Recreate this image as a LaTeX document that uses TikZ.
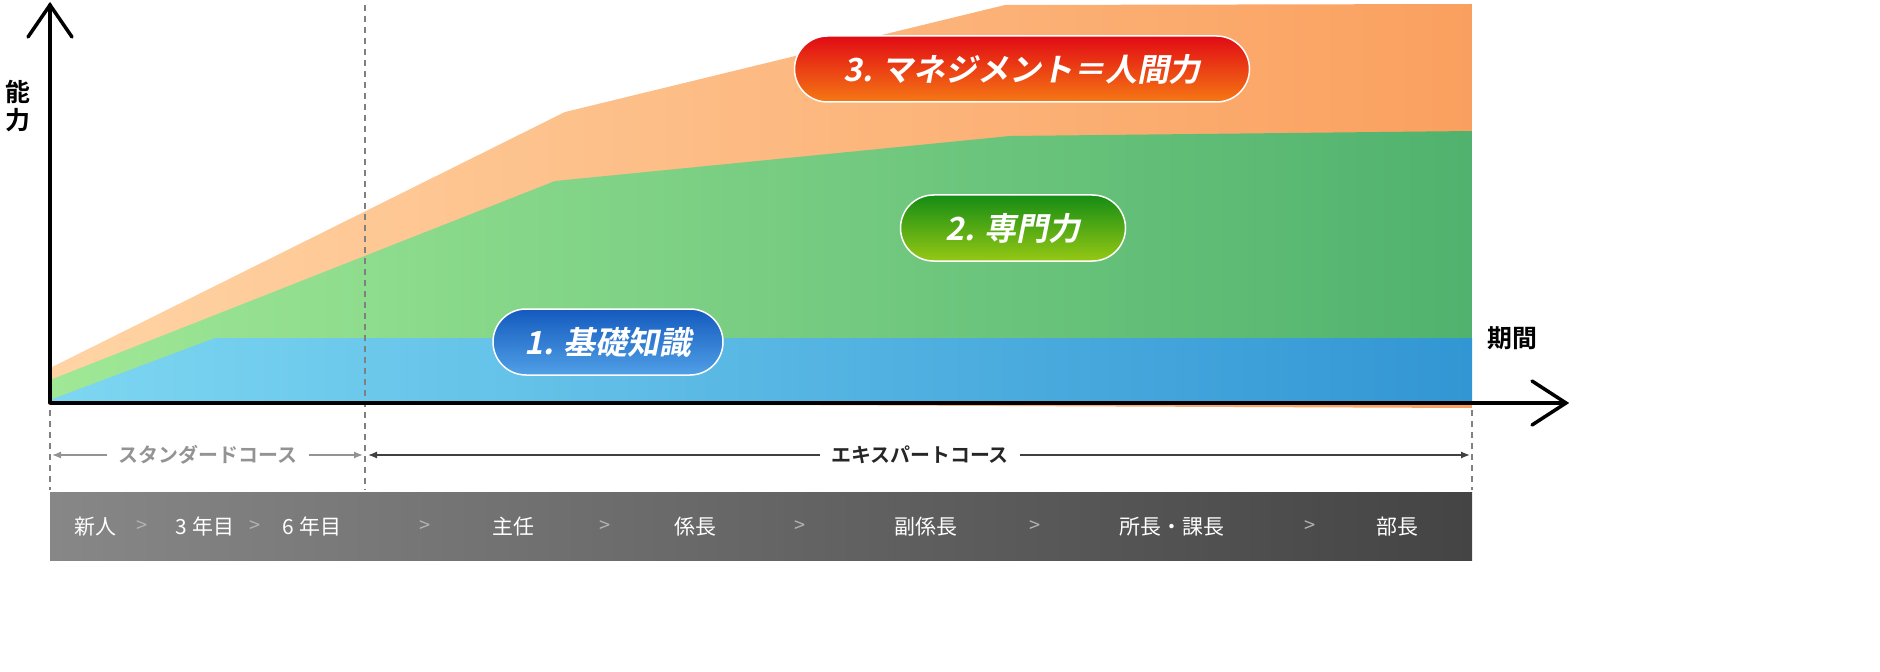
\documentclass[tikz,border=0pt]{standalone}
\usepackage{fontspec}
\newfontfamily\jp{Noto Sans CJK JP}
\newfontfamily\jpb[FakeSlant=0.2]{Noto Sans CJK JP Bold}
\newfontfamily\jpbold{Noto Sans CJK JP Bold}
\usetikzlibrary{arrows.meta}
\begin{document}
\begin{tikzpicture}[x=1bp,y=-1bp,
  pill/.style={draw=white,line width=1.5bp,rounded corners=33bp,minimum height=66bp,text=white,font=\jpb\fontsize{32}{36}\selectfont,inner xsep=0},
  barlab/.style={text=white,font=\jp\fontsize{21}{24}\selectfont},
  chev/.style={text=gray!60,font=\jp\fontsize{20}{24}\selectfont},
  dline/.style={dashed,gray,line width=1.2bp,dash pattern=on 6bp off 5bp}]
\useasboundingbox (0,0) rectangle (1880,672);
% areas
\shade[left color={rgb,255:red,255;green,212;blue,165},right color={rgb,255:red,250;green,160;blue,95}]
 (50,368) -- (565,112) -- (1005,5) -- (1472,4) -- (1472,408) -- (50,402) -- cycle;
\shade[left color={rgb,255:red,160;green,232;blue,150},right color={rgb,255:red,80;green,178;blue,110}]
 (50,380) -- (555,181) -- (1010,136) -- (1472,131) -- (1472,402) -- (50,402) -- cycle;
\shade[left color={rgb,255:red,125;green,215;blue,242},right color={rgb,255:red,50;green,150;blue,212}]
 (50,400) -- (215,338) -- (1472,338) -- (1472,402) -- (50,402) -- cycle;
% dashed lines
\draw[dline] (365,5) -- (365,490);
\draw[dline] (50,410) -- (50,490);
\draw[dline] (1472,410) -- (1472,490);
% axes
\coordinate (O) at (50,403);
\coordinate (Y) at (50,5);
\coordinate (X) at (1566,403);
\draw[line width=3.5bp,line cap=round,line join=miter] (O) -- (Y);
\draw[line width=3.5bp] (O) -- (X);
\draw[line width=3.5bp,line cap=round] (28,37) -- (Y) -- (72,37);
\draw[line width=3.5bp,line cap=round] (1532,381) -- (X) -- (1532,425);
\node[font=\jpbold\fontsize{25}{28}\selectfont,align=center] (nl) at (18,106) {能\\力};
\node[font=\jpbold\fontsize{25}{28}\selectfont] (kk) at (1512,338) {期間};
% pills
\node[pill,minimum width=455bp,top color={rgb,255:red,225;green,10;blue,20},bottom color={rgb,255:red,245;green,120;blue,20}] (p3) at (1022,69) {3. マネジメント＝人間力};
\node[pill,minimum width=225bp,top color={rgb,255:red,20;green,140;blue,20},bottom color={rgb,255:red,150;green,200;blue,20}] (p2) at (1013,228) {2. 専門力};
\node[pill,minimum width=230bp,top color={rgb,255:red,20;green,90;blue,190},bottom color={rgb,255:red,80;green,160;blue,230}] (p1) at (608,342) {1. 基礎知識};
% course arrows
\node[text=gray!85,font=\jpbold\fontsize{20}{24}\selectfont] (sc) at (208,455) {スタンダードコース};
\coordinate (s1) at (52,455); \coordinate (s2) at (363,455);
\draw[gray!85,line width=1.3bp,-{Latex[length=9bp,width=7bp]}] (sc.west) ++(-8,0) -- (s1);
\draw[gray!85,line width=1.3bp,-{Latex[length=9bp,width=7bp]}] (sc.east) ++(8,0) -- (s2);
\node[text=black!85,font=\jpbold\fontsize{20}{24}\selectfont] (ec) at (920,455) {エキスパートコース};
\coordinate (e1) at (368,455); \coordinate (e2) at (1470,455);
\draw[black!75,line width=1.3bp,-{Latex[length=9bp,width=7bp]}] (ec.west) ++(-8,0) -- (e1);
\draw[black!75,line width=1.3bp,-{Latex[length=9bp,width=7bp]}] (ec.east) ++(8,0) -- (e2);
% bar
\shade[left color={rgb,255:red,135;green,135;blue,135},right color={rgb,255:red,68;green,68;blue,68}] (50,492) rectangle (1472,560);
\node[barlab] (b1) at (95,527) {新人};
\node[chev] (c1) at (142,527) {>};
\node[barlab] (b2) at (205,527) {3 年目};
\node[chev] (c2) at (255,527) {>};
\node[barlab] (b3) at (312,527) {6 年目};
\node[chev] (c3) at (425,527) {>};
\node[barlab] (b4) at (513,527) {主任};
\node[chev] (c4) at (605,527) {>};
\node[barlab] (b5) at (695,527) {係長};
\node[chev] (c5) at (800,527) {>};
\node[barlab] (b6) at (926,527) {副係長};
\node[chev] (c6) at (1035,527) {>};
\node[barlab] (b7) at (1172,527) {所長・課長};
\node[chev] (c7) at (1310,527) {>};
\node[barlab] (b8) at (1397,527) {部長};
\end{tikzpicture}
\end{document}
